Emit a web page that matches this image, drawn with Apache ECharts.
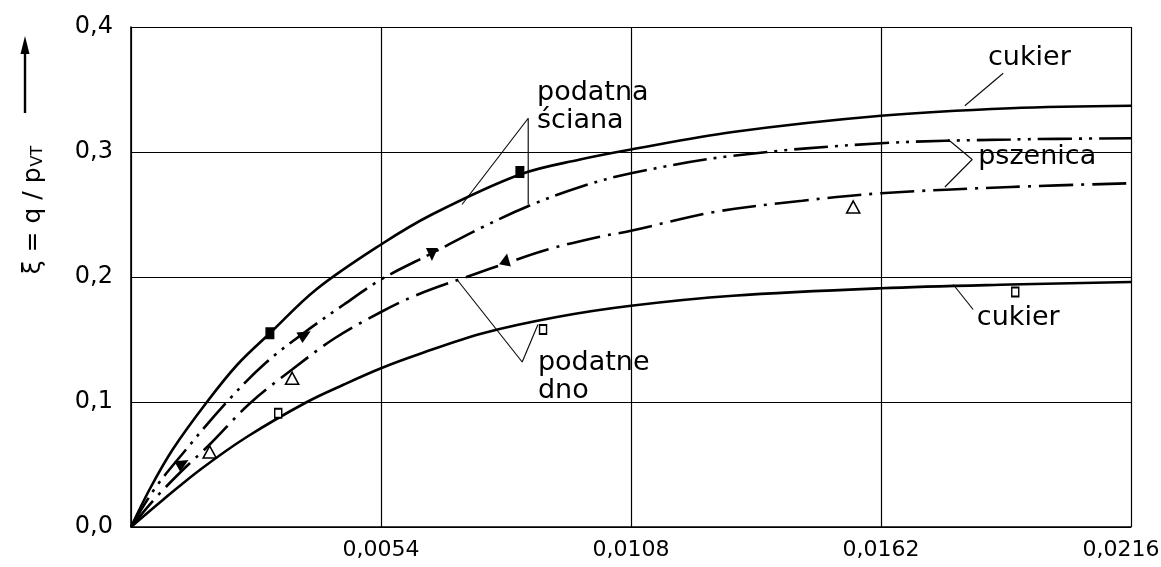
<!DOCTYPE html>
<html>
<head>
<meta charset="utf-8">
<title>ξ = q / pVT</title>
<script src="https://cdn.jsdelivr.net/npm/echarts@6/dist/echarts.min.js"></script>
<style>
  html, body { margin: 0; padding: 0; background: #fff; }
  #chart { width: 1161px; height: 567px; }
</style>
</head>
<body>
<div id="chart"></div>
<script>
// axis ticks
var xTicks = [0, 0.0054, 0.0108, 0.0162, 0.0216];
var yTicks = [0, 0.1, 0.2, 0.3, 0.4];

// cukier - podatna sciana (upper solid curve)
var cukierScianaX = [0, 0.0004, 0.0009, 0.00164, 0.0023, 0.003, 0.004, 0.0054, 0.0065, 0.0084, 0.0097, 0.0108, 0.013, 0.0162, 0.019, 0.0216];
var cukierScianaY = [0, 0.03, 0.062, 0.1, 0.13, 0.155, 0.19, 0.226, 0.25, 0.282, 0.294, 0.302, 0.316, 0.329, 0.335, 0.337];

// pszenica - podatna sciana (dash-dot-dot)
var pszScianaX = [0, 0.0005, 0.0011, 0.00207, 0.0029, 0.00376, 0.0046, 0.0054, 0.0065, 0.0076, 0.0086, 0.0097, 0.0108, 0.013, 0.0162, 0.019, 0.0216];
var pszScianaY = [0, 0.03, 0.058, 0.1, 0.131, 0.156, 0.178, 0.198, 0.219, 0.24, 0.257, 0.272, 0.283, 0.297, 0.307, 0.31, 0.311];

// pszenica - podatne dno (dash-dot)
var pszDnoX = [0, 0.0005, 0.0011, 0.0017, 0.00257, 0.00348, 0.0044, 0.0054, 0.0062, 0.0074, 0.0081, 0.009, 0.0101, 0.0108, 0.0126, 0.0145, 0.0162, 0.019, 0.0216];
var pszDnoY = [0, 0.022, 0.045, 0.066, 0.099, 0.126, 0.151, 0.172, 0.186, 0.202, 0.211, 0.222, 0.232, 0.237, 0.252, 0.261, 0.267, 0.272, 0.275];

// cukier - podatne dno (lower solid curve)
var cukierDnoX = [0, 0.0007, 0.0015, 0.0025, 0.0038, 0.0046, 0.0054, 0.0062, 0.0076, 0.0092, 0.0108, 0.013, 0.0162, 0.019, 0.0216];
var cukierDnoY = [0, 0.022, 0.046, 0.072, 0.1, 0.114, 0.127, 0.138, 0.155, 0.168, 0.177, 0.185, 0.191, 0.194, 0.196];

// measured points
var ptsSquareFilled = [[0.0030, 0.155], [0.0084, 0.284]];
var ptsArrowB = [[0.00112, 0.051], [0.00376, 0.154]];
var ptsDownB = [[0.0065, 0.218]];
var ptsUpC = [[0.0081, 0.214]];
var ptsTriangleOpen = [[0.0017, 0.06], [0.00348, 0.119], [0.0156, 0.256]];
var ptsSquareOpen = [[0.00318, 0.091], [0.0089, 0.158], [0.0191, 0.188]];

// leader lines of the annotations
var leaderSciana = [[0.00715, 0.258], [0.00858, 0.327], [0.00858, 0.258]];
var leaderDno = [[0.00704, 0.198], [0.00845, 0.132], [0.00879, 0.162]];
var leaderPszenica = [[0.01765, 0.31], [0.01817, 0.294], [0.01758, 0.272]];
var leaderCukierTop = [[0.01801, 0.337], [0.01884, 0.363]];
var leaderCukierBottom = [[0.01776, 0.194], [0.01819, 0.174]];

// annotation texts
var labelNames = ['cukier', 'podatna\nściana', 'pszenica', 'cukier', 'podatne\ndno'];
var labelPos = [[0.01851, 0.375], [0.00877, 0.336], [0.0183, 0.296], [0.01827, 0.167], [0.00879, 0.12]];

function zip(xs, ys) {
  return xs.map(function (x, i) { return [x, ys[i]]; });
}

var FONT = 'DejaVu Sans';
var INK = '#000';

function curve(name, xs, ys, type) {
  return {
    name: name,
    type: 'line',
    data: zip(xs, ys),
    smooth: 0.35,
    showSymbol: false,
    lineStyle: { color: INK, width: 2.6, type: type },
    z: 3
  };
}

function leader(pts) {
  return {
    type: 'line',
    data: pts,
    showSymbol: false,
    lineStyle: { color: '#111', width: 1.2 },
    z: 2
  };
}

function marks(pts, symbol, size, rotate, filled) {
  return {
    type: 'scatter',
    data: pts,
    symbol: symbol,
    symbolSize: size,
    symbolRotate: rotate,
    itemStyle: filled
      ? { color: INK, opacity: 1 }
      : { color: '#fff', borderColor: INK, borderWidth: 1.6, opacity: 1 },
    z: 4
  };
}

var chart = echarts.init(document.getElementById('chart'));

var xMax = xTicks[xTicks.length - 1];

var option = {
  animation: false,
  backgroundColor: '#fff',
  grid: { left: 131, right: 30, top: 27, bottom: 40, outerBoundsMode: 'none', containLabel: false },
  xAxis: {
    type: 'value',
    min: xTicks[0],
    max: xMax,
    interval: xTicks[1] - xTicks[0],
    axisLine: { lineStyle: { color: INK, width: 1.6 } },
    axisTick: { show: false },
    axisLabel: {
      margin: 12,
      color: INK,
      fontFamily: FONT,
      fontSize: 22,
      formatter: function (v) {
        if (v === 0) return '';
        var s = v.toFixed(4).replace('.', ',');
        return Math.abs(v - xMax) < 1e-9 ? '{m|' + s + '}' : s;
      },
      rich: {
        m: { fontFamily: FONT, fontSize: 22, color: INK, padding: [0, 20, 0, 0] }
      }
    },
    splitLine: { show: true, lineStyle: { color: INK, width: 1.2 } }
  },
  yAxis: {
    type: 'value',
    min: yTicks[0],
    max: yTicks[yTicks.length - 1],
    interval: yTicks[1] - yTicks[0],
    axisLine: { show: true, lineStyle: { color: INK, width: 1.6 } },
    axisTick: { show: false },
    axisLabel: {
      margin: 18,
      color: INK,
      fontFamily: FONT,
      fontSize: 24,
      formatter: function (v) { return v.toFixed(1).replace('.', ','); }
    },
    splitLine: { show: true, lineStyle: { color: INK, width: 1.2 } }
  },
  graphic: [
    {
      type: 'text',
      x: 30,
      y: 210,
      rotation: Math.PI / 2,
      style: {
        text: '{a|ξ = q / p}{s|VT}',
        align: 'center',
        verticalAlign: 'middle',
        fill: INK,
        rich: {
          a: { fontFamily: FONT, fontSize: 25, fill: INK, lineHeight: 32, verticalAlign: 'bottom' },
          s: { fontFamily: FONT, fontSize: 16, fill: INK, lineHeight: 32, verticalAlign: 'bottom', padding: [0, 0, 0, 1] }
        }
      }
    },
    {
      type: 'line',
      shape: { x1: 25, y1: 113, x2: 25, y2: 50 },
      style: { stroke: INK, lineWidth: 2.4 }
    },
    {
      type: 'polygon',
      shape: { points: [[25, 36], [20.5, 54], [29.5, 54]] },
      style: { fill: INK }
    }
  ],
  series: [
    curve('cukier podatna sciana', cukierScianaX, cukierScianaY, 'solid'),
    curve('pszenica podatna sciana', pszScianaX, pszScianaY, [34, 7, 3, 7, 3, 7]),
    curve('pszenica podatne dno', pszDnoX, pszDnoY, [34, 8, 3, 8]),
    curve('cukier podatne dno', cukierDnoX, cukierDnoY, 'solid'),
    leader(leaderSciana),
    leader(leaderDno),
    leader(leaderPszenica),
    leader(leaderCukierTop),
    leader(leaderCukierBottom),
    marks(ptsSquareFilled, 'rect', [9, 12], 0, true),
    marks(ptsArrowB, 'triangle', [12, 13], -60, true),
    marks(ptsDownB, 'triangle', [12, 13], 180, true),
    marks(ptsUpC, 'triangle', [12, 12], -10, true),
    marks(ptsTriangleOpen, 'triangle', [13, 12], 0, false),
    marks(ptsSquareOpen, 'rect', [7, 9], 0, false),
    {
      type: 'scatter',
      data: labelPos.map(function (p, i) { return { name: labelNames[i], value: p }; }),
      symbolSize: 0,
      itemStyle: { opacity: 1 },
      label: {
        show: true,
        position: 'right',
        distance: 0,
        formatter: '{b}',
        color: INK,
        opacity: 1,
        fontFamily: FONT,
        fontSize: 27,
        lineHeight: 28
      },
      z: 5
    }
  ]
};

chart.setOption(option);
</script>
</body>
</html>
